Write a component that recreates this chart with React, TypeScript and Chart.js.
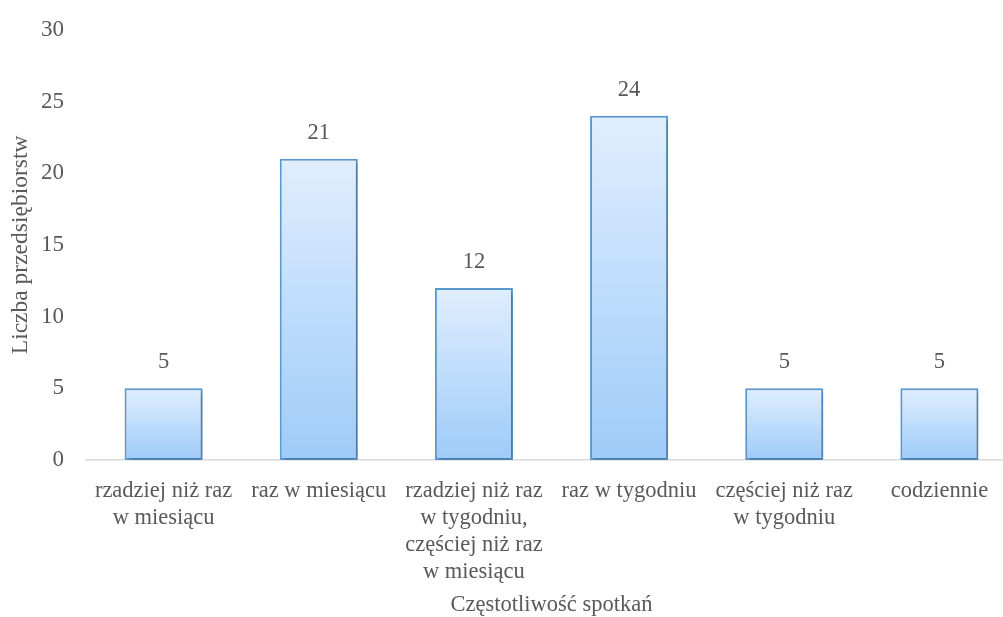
import React, { useEffect, useRef } from "react";
import { Chart, registerables } from "chart.js";

Chart.register(...registerables);

const categories: (string | string[])[] = [
  ["rzadziej niż raz", "w miesiącu"],
  "raz w miesiącu",
  ["rzadziej niż raz", "w tygodniu,", "częściej niż raz", "w miesiącu"],
  "raz w tygodniu",
  ["częściej niż raz", "w tygodniu"],
  "codziennie",
];
const counts = [5, 21, 12, 24, 5, 5];
const yTitle = "Liczba przedsiębiorstw";
const xTitle = "Częstotliwość spotkań";

const FONT = "'Liberation Serif', 'Times New Roman', serif";
const TEXT = "#595959";

// Soft drop shadow behind the bars
const shadowPlugin = {
  id: "barShadow",
  beforeDatasetsDraw(chart: any) {
    const ctx = chart.ctx;
    ctx.save();
    ctx.shadowColor = "rgba(0,0,0,0.25)";
    ctx.shadowBlur = 4;
    ctx.shadowOffsetX = 2;
    ctx.shadowOffsetY = 2;
  },
  afterDatasetsDraw(chart: any) {
    chart.ctx.restore();
  },
};

// Value labels above each bar
const valueLabelPlugin = {
  id: "valueLabels",
  afterDatasetsDraw(chart: any) {
    const ctx = chart.ctx;
    const meta = chart.getDatasetMeta(0);
    ctx.save();
    ctx.font = `22.5px ${FONT}`;
    ctx.fillStyle = TEXT;
    ctx.textAlign = "center";
    ctx.textBaseline = "middle";
    meta.data.forEach((bar: any, i: number) => {
      ctx.fillText(String(counts[i]), bar.x, bar.y - 26);
    });
    ctx.restore();
  },
};

export default function App() {
  const canvasRef = useRef<HTMLCanvasElement | null>(null);

  useEffect(() => {
    document.body.style.margin = "0";
    const canvas = canvasRef.current;
    if (!canvas) return;
    const chart = new Chart(canvas, {
      type: "bar",
      data: {
        labels: categories,
        datasets: [
          {
            data: counts,
            backgroundColor: (c: any) => {
              const ch = c.chart;
              const ys = ch.scales?.y;
              if (!ch.chartArea || !ys || c.dataIndex === undefined) return "#c4defb";
              const top = ys.getPixelForValue(counts[c.dataIndex]);
              const bottom = ys.getPixelForValue(0);
              if (!isFinite(top) || !isFinite(bottom) || top === bottom) return "#c4defb";
              const g = ch.ctx.createLinearGradient(0, top, 0, bottom);
              g.addColorStop(0, "#e0eefe");
              g.addColorStop(1, "#9ecbf9");
              return g;
            },
            borderColor: "#5b9bd5",
            borderWidth: 2,
            borderSkipped: false,
            barPercentage: 0.503,
            categoryPercentage: 1,
          },
        ],
      },
      options: {
        responsive: false,
        animation: false,
        layout: { padding: { top: 21, right: 0, left: 0, bottom: 0 } },
        plugins: {
          legend: { display: false },
          tooltip: { enabled: false },
        },
        scales: {
          y: {
            min: 0,
            max: 30,
            ticks: {
              stepSize: 5,
              color: TEXT,
              font: { family: FONT, size: 23 },
              padding: 22,
            },
            grid: { display: false, drawTicks: false },
            border: { display: false },
            title: {
              display: true,
              text: yTitle,
              color: TEXT,
              font: { family: FONT, size: 23.5, lineHeight: 1.2 },
              padding: { top: 7, bottom: 0 },
            },
            afterFit: (s: any) => {
              s.width = 86;
            },
          },
          x: {
            ticks: {
              color: TEXT,
              font: { family: FONT, size: 22.5, lineHeight: 1.2 },
              maxRotation: 0,
              autoSkip: false,
              padding: 18,
            },
            grid: { display: false, drawTicks: false },
            border: { display: true, color: "#d9d9d9", width: 1.5 },
            title: {
              display: true,
              text: xTitle,
              color: TEXT,
              font: { family: FONT, size: 22.5, lineHeight: 1.2 },
              padding: { top: 6, bottom: -2 },
            },
            afterFit: (s: any) => {
              s.height = 157;
            },
          },
        },
      },
      plugins: [shadowPlugin, valueLabelPlugin],
    });
    return () => chart.destroy();
  }, []);

  // The plot extends a little past the right and top edges, so the canvas is clipped
  return (
    <div style={{ position: "absolute", left: 0, top: 0, width: 1003, height: 617, overflow: "hidden" }}>
      <canvas
        ref={canvasRef}
        width={1017}
        height={623}
        style={{ display: "block", position: "absolute", left: 0, top: -6 }}
      />
    </div>
  );
}
